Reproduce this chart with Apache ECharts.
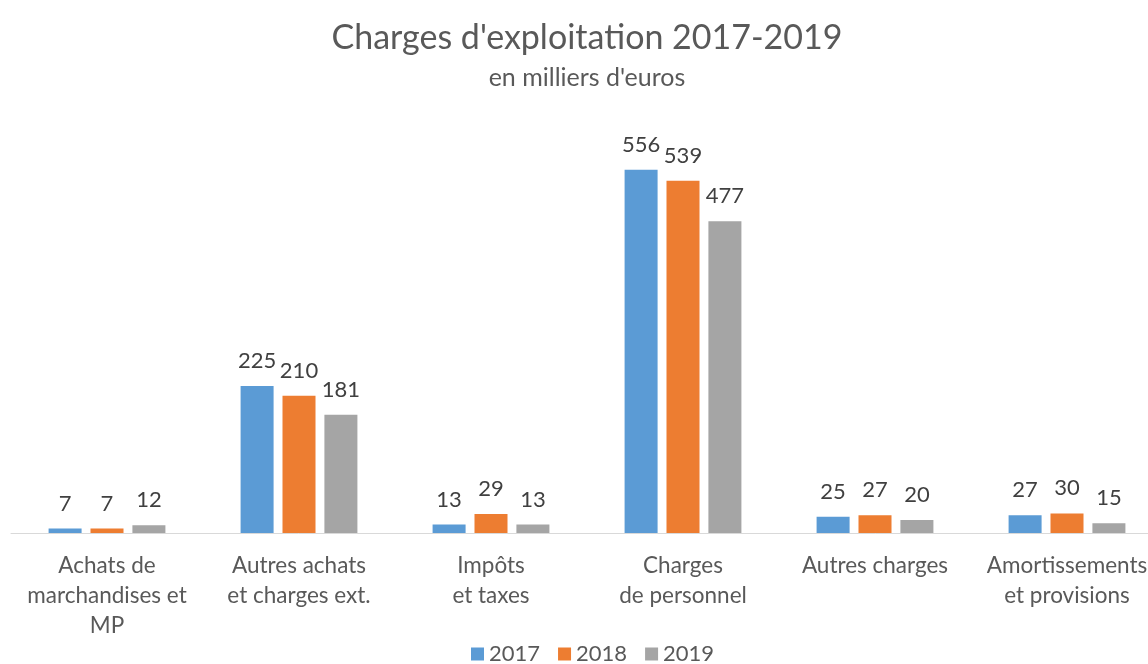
<!DOCTYPE html>
<html>
<head>
<meta charset="utf-8">
<script src="https://cdn.jsdelivr.net/npm/echarts@6/dist/echarts.min.js"></script>
<style>html,body{margin:0;padding:0;background:#fff;overflow:hidden;width:1148px;height:664px}#c{width:1163px;height:664px}</style>
</head>
<body>
<div id="c"></div>
<script>
var categories = ["Achats de\nmarchandises et\nMP", "Autres achats\net charges ext.", "Impôts\net taxes", "Charges\nde personnel", "Autres charges", "Amortissements\net provisions"];
var seriesNames = ["2017", "2018", "2019"];
var values2017 = [7, 225, 13, 556, 25, 27];
var values2018 = [7, 210, 29, 539, 27, 30];
var values2019 = [12, 181, 13, 477, 20, 15];
var colors = ["#5B9BD5", "#ED7D31", "#A5A5A5"];
var FONT = "Lato, sans-serif";

var chart = echarts.init(document.getElementById('c'));
function mk(name, data, color) {
  return {
    name: name, type: 'bar', data: data, barWidth: 33, barGap: '27%',
    itemStyle: {color: color},
    label: {show: true, position: 'top', distance: 14, color: '#404040', fontSize: 22, fontFamily: FONT}
  };
}
chart.setOption({
  animation: false,
  title: [
    {text: "Charges d'exploitation 2017-2019", left: 582, top: 16, textAlign: 'center',
     textStyle: {fontSize: 34, fontWeight: 'normal', color: '#595959', fontFamily: FONT}},
    {text: "en milliers d'euros", left: 582, top: 60, textAlign: 'center',
     textStyle: {fontSize: 25, fontWeight: 'normal', color: '#595959', fontFamily: FONT}}
  ],
  legend: {
    data: seriesNames, top: 638, left: 466, itemWidth: 13, itemHeight: 13, itemGap: 18,
    icon: 'rect',
    textStyle: {fontSize: 22, color: '#595959', fontFamily: FONT}
  },
  grid: {left: 11, right: 0, top: 141, bottom: 131, containLabel: false},
  xAxis: {
    type: 'category', data: categories,
    axisLine: {lineStyle: {color: '#D9D9D9', width: 1}},
    axisTick: {show: false},
    axisLabel: {fontSize: 22.5, color: '#595959', fontFamily: FONT, lineHeight: 30, margin: 18, interval: 0}
  },
  yAxis: {type: 'value', min: 0, max: 600, show: false, splitLine: {show: false}},
  series: [mk(seriesNames[0], values2017, colors[0]), mk(seriesNames[1], values2018, colors[1]), mk(seriesNames[2], values2019, colors[2])]
});
</script>
</body>
</html>
